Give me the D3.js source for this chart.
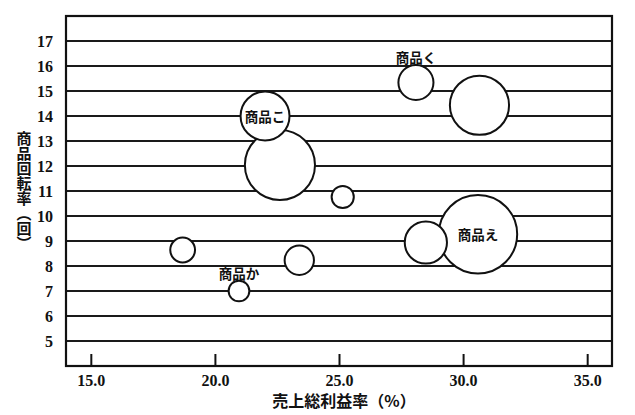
<!DOCTYPE html>
<html>
<head>
<meta charset="utf-8">
<script src="https://cdn.jsdelivr.net/npm/d3@7/dist/d3.min.js"></script>
<style>
  html, body { margin: 0; padding: 0; background: #fff; }
  svg { display: block; }
</style>
</head>
<body>
<svg id="chart" width="635" height="415"></svg>
<script>
// ---- data ----
const products = ["", "商品こ", "", "商品く", "", "", "", "商品え", "商品か", ""];
const grossMargin = [22.62, 22.02, 30.66, 28.1, 25.15, 28.5, 18.7, 30.6, 20.97, 23.4];
const turnover    = [12.04, 14.0, 14.43, 15.34, 10.76, 8.94, 8.64, 9.27, 7.0, 8.23];
const sales       = [80, 39, 57, 20, 8, 29, 10, 100, 7, 14];
const xTicks = [15, 20, 25, 30, 35];
const yTicks = [5, 6, 7, 8, 9, 10, 11, 12, 13, 14, 15, 16, 17];
const xTitle = "売上総利益率（%）";
const yTitle = "商品回転率（回）";

// ---- layout ----
const svg = d3.select("#chart");
const m = { left: 66, top: 16, right: 612, bottom: 366 };
const x = d3.scaleLinear().domain([14, 36]).range([m.left, m.right]);
const y = d3.scaleLinear().domain([4, 18]).range([m.bottom, m.top]);
const r = d3.scaleSqrt().domain([0, d3.max(sales)]).range([0, 39.2]);

const tickFont = "'Liberation Serif', 'DejaVu Serif', serif";
const cjkFont = "'Noto Sans CJK JP', 'Noto Sans CJK SC', sans-serif";

// gridlines
svg.append("g")
  .selectAll("line")
  .data(yTicks)
  .join("line")
  .attr("x1", m.left).attr("x2", m.right)
  .attr("y1", d => y(d)).attr("y2", d => y(d))
  .attr("stroke", "#1a1a1a").attr("stroke-width", 2);

// y axis labels (no tick marks)
const yAxis = d3.axisLeft(y).tickValues(yTicks).tickSize(0).tickPadding(13).tickFormat(d3.format("d"));
const gy = svg.append("g").attr("transform", `translate(${m.left},0)`).call(yAxis);
gy.select(".domain").remove();
gy.selectAll("text")
  .attr("font-family", tickFont).attr("font-weight", "bold")
  .attr("font-size", 16).attr("fill", "#111");

// x axis: ticks pointing up inside, labels below
const xAxis = d3.axisBottom(x).tickValues(xTicks).tickSizeInner(-12).tickSizeOuter(0)
  .tickPadding(9).tickFormat(d3.format(".1f"));
const gx = svg.append("g").attr("transform", `translate(0,${m.bottom})`).call(xAxis);
gx.select(".domain").remove();
gx.selectAll(".tick line").attr("stroke", "#111").attr("stroke-width", 2);
gx.selectAll("text")
  .attr("font-family", tickFont).attr("font-weight", "bold")
  .attr("font-size", 16).attr("fill", "#111");

// frame
svg.append("rect")
  .attr("x", m.left).attr("y", m.top)
  .attr("width", m.right - m.left).attr("height", m.bottom - m.top)
  .attr("fill", "none").attr("stroke", "#111").attr("stroke-width", 2.2);

// bubbles (largest first so smaller lie on top)
const data = products.map((p, i) => ({ name: p, gm: grossMargin[i], tr: turnover[i], s: sales[i] }))
  .sort((a, b) => b.s - a.s);

svg.append("g")
  .selectAll("circle")
  .data(data)
  .join("circle")
  .attr("cx", d => x(d.gm)).attr("cy", d => y(d.tr)).attr("r", d => r(d.s))
  .attr("fill", "#fff").attr("stroke", "#111").attr("stroke-width", 2);

// bubble labels: inside for big bubbles, above for small ones
svg.append("g")
  .selectAll("text")
  .data(data.filter(d => d.name))
  .join("text")
  .attr("x", d => x(d.gm))
  .attr("y", d => r(d.s) > 22 ? y(d.tr) : y(d.tr) - r(d.s) - 8)
  .attr("text-anchor", "middle")
  .attr("dominant-baseline", "central")
  .attr("font-family", cjkFont).attr("font-weight", "bold")
  .attr("font-size", 13.5).attr("fill", "#111")
  .text(d => d.name);

// axis titles
svg.append("text")
  .attr("x", (m.left + m.right) / 2 + 5).attr("y", 400)
  .attr("text-anchor", "middle").attr("dominant-baseline", "central")
  .attr("font-family", cjkFont).attr("font-weight", "bold")
  .attr("font-size", 16).attr("fill", "#111")
  .text(xTitle);

svg.append("text")
  .attr("x", 24).attr("y", 191)
  .attr("text-anchor", "middle")
  .style("writing-mode", "vertical-rl")
  .attr("font-family", cjkFont).attr("font-weight", "bold")
  .attr("font-size", 15).attr("fill", "#111")
  .text(yTitle);
</script>
</body>
</html>
